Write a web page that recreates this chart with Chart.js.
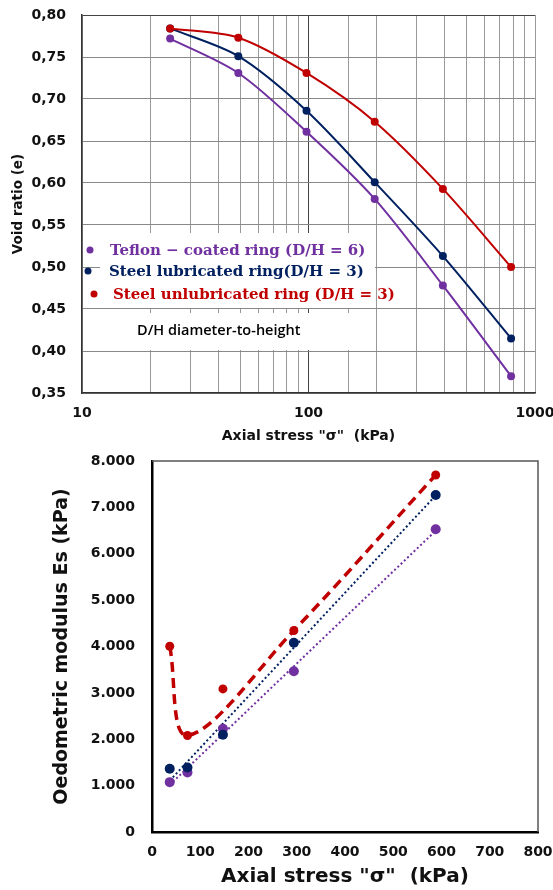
<!DOCTYPE html>
<html>
<head>
<meta charset="utf-8">
<script src="https://cdn.jsdelivr.net/npm/chart.js@4.4.0/dist/chart.umd.min.js"></script>
<style>
  html, body { margin: 0; padding: 0; background: #fff; }
  .box { position: absolute; left: 0; width: 553px; height: 445px; }
</style>
</head>
<body>
<div class="box" style="top:0"><canvas id="voidChart"></canvas></div>
<div class="box" style="top:445px"><canvas id="esChart"></canvas></div>
<script>
// --- data: void ratio vs axial stress (log scale)
const stress = [24.5, 49, 98, 196, 392, 784]
const voidUnlub = [0.784, 0.773, 0.731, 0.673, 0.593, 0.500]
const voidLub = [0.784, 0.751, 0.686, 0.601, 0.513, 0.415]
const voidTeflon = [0.772, 0.731, 0.661, 0.581, 0.478, 0.370]
const logLabels = [10, 100, 1000]

// --- data: oedometric modulus vs mean axial stress
const midStress = [36.75, 73.5, 147, 294, 588]
const esUnlub = [4006, 2082, 3085, 4346, 7697]
const esLub = [1362, 1390, 2097, 4080, 7265]
const esTeflon = [1075, 1282, 2227, 3466, 6530]
const unlubCurveIdx = [0, 1, 3, 4] // points the dashed red curve runs through

const legendLabels = [
  'Teflon \u2212 coated ring (D/H = 6)',
  'Steel lubricated ring(D/H = 3)',
  'Steel unlubricated ring (D/H = 3)'
]
const noteText = 'D/H diameter-to-height'

const RED = '#C00000'
const BLUE = '#002060'
const PURPLE = '#7030A0'

const tickFont = { family: 'DejaVu Sans', weight: 'bold', size: 14 }

const pts = (xs, ys) => xs.map((x, i) => ({ x: x, y: ys[i] }))

// least squares line over the data, drawn between first and last x
function trend(xs, ys) {
  const n = xs.length
  const mx = xs.reduce((a, b) => a + b, 0) / n
  const my = ys.reduce((a, b) => a + b, 0) / n
  let sxy = 0, sxx = 0
  xs.forEach((x, i) => { sxy += (x - mx) * (ys[i] - my); sxx += (x - mx) * (x - mx) })
  const b = sxy / sxx, a = my - b * mx
  const x0 = xs[0], x1 = xs[n - 1]
  return [{ x: x0, y: a + b * x0 }, { x: x1, y: a + b * x1 }]
}

// keep label overhang from shrinking the plot area
function noPadX(s, h) { s.height = h; s.paddingLeft = 0; s.paddingRight = 0 }
function noPadY(s, w) { s.width = w; s.paddingTop = 0; s.paddingBottom = 0 }

// legend + note box on the top chart
const ringLegend = {
  id: 'ringLegend',
  beforeDatasetsDraw(chart) {
    const ctx = chart.ctx
    const colors = [PURPLE, BLUE, RED]
    const rows = [250, 271, 294]
    const dotX = [90, 88, 94]
    const textX = [110, 109, 113]
    ctx.save()
    ctx.fillStyle = '#fff'
    ctx.fillRect(100, 233, 275, 75)
    ctx.fillRect(100, 313, 275, 37)
    ctx.font = 'bold 15px "DejaVu Serif"'
    ctx.textBaseline = 'middle'
    legendLabels.forEach((t, i) => {
      ctx.fillStyle = colors[i]
      ctx.beginPath()
      ctx.arc(dotX[i], rows[i], 3.5, 0, Math.PI * 2)
      ctx.fill()
      ctx.fillText(t, textX[i], rows[i] + 1)
    })
    ctx.fillStyle = '#000'
    ctx.font = '600 14.5px "Open Sans"'
    ctx.fillText(noteText, 137, 331)
    ctx.restore()
  }
}

new Chart(document.getElementById('voidChart').getContext('2d'), {
  type: 'line',
  data: {
    datasets: [
      { label: legendLabels[2], data: pts(stress, voidUnlub), borderColor: RED, backgroundColor: RED },
      { label: legendLabels[1], data: pts(stress, voidLub), borderColor: BLUE, backgroundColor: BLUE },
      { label: legendLabels[0], data: pts(stress, voidTeflon), borderColor: PURPLE, backgroundColor: PURPLE },
    ]
  },
  options: {
    responsive: true,
    maintainAspectRatio: false,
    animation: false,
    layout: { padding: { top: 15, right: 18, left: 0, bottom: 0 } },
    elements: {
      line: { borderWidth: 2, tension: 0.3 },
      point: { radius: 4, borderWidth: 0, hoverRadius: 4 }
    },
    plugins: { legend: { display: false }, tooltip: { enabled: false } },
    scales: {
      x: {
        type: 'logarithmic',
        min: 10,
        max: 1000,
        afterFit(s) { noPadX(s, 52) },
        grid: {
          drawTicks: false,
          lineWidth: 1,
          color: c => (c.tick && Math.round(c.tick.value) === 100) ? '#444' : '#999'
        },
        border: { color: '#333', width: 1.5 },
        ticks: {
          autoSkip: false,
          maxRotation: 0,
          padding: 12,
          color: '#111',
          font: tickFont,
          callback: v => logLabels.includes(Math.round(v)) ? String(Math.round(v)) : ''
        },
        title: {
          display: true,
          text: 'Axial stress "\u03c3"  (kPa)',
          color: '#111',
          font: { family: 'DejaVu Sans', weight: 'bold', size: 14 },
          padding: { top: 0, bottom: 0 }
        }
      },
      y: {
        min: 0.35,
        max: 0.80,
        afterFit(s) { noPadY(s, 82) },
        grid: {
          drawTicks: false,
          color: c => (c.tick && c.tick.value > 0.799) ? '#444' : '#888'
        },
        border: { color: '#333', width: 1.5 },
        ticks: {
          stepSize: 0.05,
          padding: 16,
          color: '#111',
          font: tickFont,
          callback: v => v.toFixed(2).replace('.', ',')
        },
        title: {
          display: true,
          text: 'Void ratio (e)',
          color: '#111',
          font: { family: 'DejaVu Sans', weight: 'bold', size: 13.5 },
          padding: { top: 10, bottom: 0 }
        }
      }
    }
  },
  plugins: [ringLegend]
})

// top and right frame of the lower chart
const frame = {
  id: 'frame',
  afterDraw(chart) {
    const { left, right, top, bottom } = chart.chartArea
    const ctx = chart.ctx
    ctx.save()
    ctx.strokeStyle = '#555'
    ctx.lineWidth = 1.5
    ctx.beginPath()
    ctx.moveTo(left, top)
    ctx.lineTo(right, top)
    ctx.lineTo(right, bottom)
    ctx.stroke()
    ctx.restore()
  }
}

new Chart(document.getElementById('esChart').getContext('2d'), {
  type: 'scatter',
  data: {
    datasets: [
      { data: pts(midStress, esUnlub), backgroundColor: RED, pointRadius: 4.5, order: 1 },
      { data: pts(midStress, esLub), backgroundColor: BLUE, pointRadius: 5, order: 2 },
      { data: pts(midStress, esTeflon), backgroundColor: PURPLE, pointRadius: 5, order: 3 },
      {
        data: unlubCurveIdx.map(i => ({ x: midStress[i], y: esUnlub[i] })),
        showLine: true, borderColor: RED, borderWidth: 3.5, borderDash: [10, 6],
        tension: 0.35, pointRadius: 0, order: 4
      },
      {
        data: trend(midStress, esLub),
        showLine: true, borderColor: BLUE, borderWidth: 2, borderDash: [2, 2.5],
        pointRadius: 0, order: 5
      },
      {
        data: trend(midStress, esTeflon),
        showLine: true, borderColor: PURPLE, borderWidth: 2, borderDash: [2, 2.5],
        pointRadius: 0, order: 6
      }
    ]
  },
  options: {
    responsive: true,
    maintainAspectRatio: false,
    animation: false,
    layout: { padding: { top: 16, right: 15, left: 0, bottom: 0 } },
    elements: { point: { borderWidth: 0, hoverRadius: 5 } },
    plugins: { legend: { display: false }, tooltip: { enabled: false } },
    scales: {
      x: {
        min: 0,
        max: 800,
        afterFit(s) { noPadX(s, 58) },
        grid: { display: false, drawTicks: false },
        border: { color: '#000', width: 2.5 },
        ticks: { stepSize: 100, padding: 12, color: '#111', font: tickFont, maxRotation: 0 },
        title: {
          display: true,
          text: 'Axial stress "\u03c3"  (kPa)',
          color: '#111',
          font: { family: 'DejaVu Sans', weight: 'bold', size: 20 },
          padding: { top: 0, bottom: 1 }
        }
      },
      y: {
        min: 0,
        max: 8000,
        afterFit(s) { noPadY(s, 152) },
        grid: { display: false, drawTicks: false },
        border: { color: '#000', width: 2.5 },
        ticks: {
          stepSize: 1000,
          padding: 17,
          color: '#111',
          font: tickFont,
          callback: v => v === 0 ? '0' : (v / 1000).toFixed(3)
        },
        title: {
          display: true,
          text: 'Oedometric modulus Es (kPa)',
          color: '#111',
          font: { family: 'DejaVu Sans', weight: 'bold', size: 19 },
          padding: { top: 51, bottom: 0 }
        }
      }
    }
  },
  plugins: [frame]
})
</script>
</body>
</html>
